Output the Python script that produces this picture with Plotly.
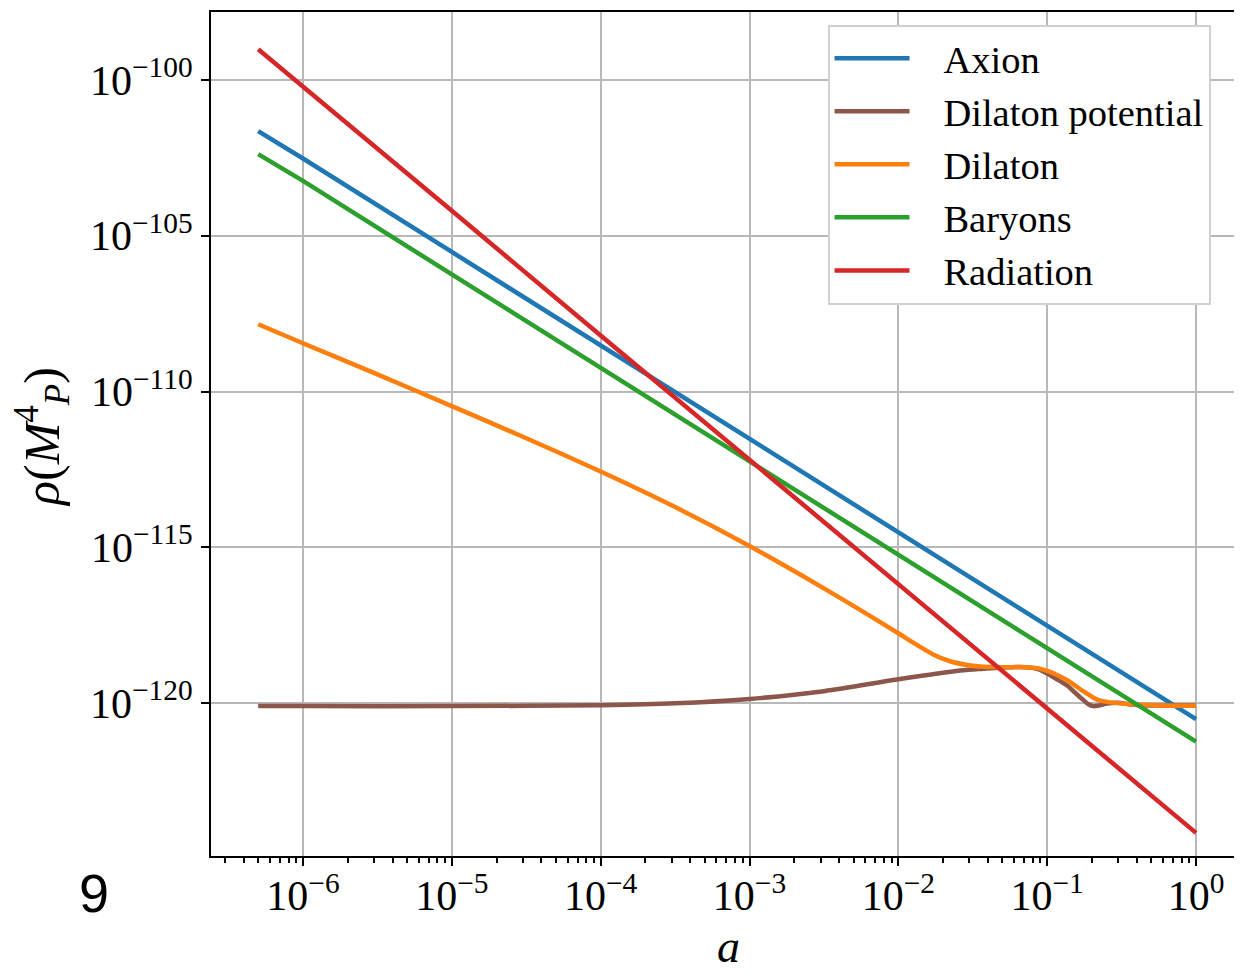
import numpy as np
import plotly.graph_objects as go

# ---- data (log10 of rho in M_P^4) ----
a_lines = [5e-7, 1e-6, 1e-5, 1e-4, 1e-3, 1e-2, 1e-1, 1.0]
axion_log = [-101.64, -102.52, -105.52, -108.52, -111.52, -114.52, -117.52, -120.52]
baryons_log = [-102.38, -103.24, -106.24, -109.24, -112.24, -115.24, -118.24, -121.24]
radiation_log = [-99.01, -100.2, -104.2, -108.2, -112.2, -116.2, -120.2, -124.17]

a_pot_exp = [-6.301, -6.0, -5.0, -4.5, -4.0, -3.5, -3.0, -2.5, -2.0, -1.585,
             -1.43, -1.3, -1.15, -1.067, -1.0, -0.933, -0.866, -0.81, -0.758, -0.72,
             -0.691, -0.65, -0.60, -0.53, -0.45, -0.375, -0.2, 0.0]
pot_log = [-120.10, -120.10, -120.10, -120.09, -120.07, -120.01, -119.87, -119.62,
           -119.24, -118.96, -118.90, -118.86, -118.85, -118.90, -119.05, -119.24,
           -119.44, -119.68, -119.90, -120.05, -120.10, -120.08, -120.02, -119.99,
           -120.04, -120.08, -120.08, -120.08]

a_dil_exp = [-6.301, -6.0, -5.5, -5.0, -4.5, -4.0, -3.5, -3.0, -2.5, -2.0,
             -1.88, -1.766, -1.652, -1.538, -1.43, -1.3, -1.15, -1.067, -1.0, -0.933,
             -0.866, -0.81, -0.758, -0.70, -0.664, -0.577, -0.4, -0.2, 0.0]
dil_log = [-107.84, -108.45, -109.45, -110.47, -111.50, -112.57, -113.71, -114.96, -116.32,
           -117.76, -118.12, -118.44, -118.66, -118.78, -118.84, -118.85, -118.85, -118.88,
           -118.97, -119.10, -119.27, -119.45, -119.62, -119.80, -119.89, -119.98, -120.05,
           -120.08, -120.09]

series = [
    ("Axion", a_lines, axion_log, "#1f77b4", "linear"),
    ("Dilaton potential", [10.0 ** e for e in a_pot_exp], pot_log, "#8c564b", "spline"),
    ("Dilaton", [10.0 ** e for e in a_dil_exp], dil_log, "#ff7f0e", "spline"),
    ("Baryons", a_lines, baryons_log, "#2ca02c", "linear"),
    ("Radiation", a_lines, radiation_log, "#d62728", "linear"),
]

y_tick_exps = [-100, -105, -110, -115, -120]
x_tick_exps = [-6, -5, -4, -3, -2, -1, 0]

SERIF = "Liberation Serif, Times New Roman, serif"

fig = go.Figure()
for name, xs, ylog, color, shape in series:
    fig.add_trace(go.Scatter(
        x=xs, y=[10.0 ** v for v in ylog], mode="lines",
        name="&nbsp;&nbsp;&nbsp;" + name,
        line=dict(color=color, width=4.5, shape=shape,
                  smoothing=0.9 if shape == "spline" else None),
    ))

minor_x = [m * 10.0 ** e for e in range(-7, 1) for m in range(2, 10)]

# the page body has an 8px margin, so the figure is offset to line up with the window
fig.update_layout(
    width=1242, height=966,
    margin=dict(l=203, r=8, t=4, b=118, autoexpand=False),
    paper_bgcolor="white", plot_bgcolor="white",
    font=dict(family=SERIF, color="black"),
    showlegend=True,
    legend=dict(
        x=0.598, y=0.985, xanchor="left", yanchor="top",
        bgcolor="white", bordercolor="#d0d0d0", borderwidth=2,
        font=dict(family=SERIF, size=38.5, color="black"),
        itemwidth=75,
    ),
    xaxis=dict(
        type="log", range=[-6.618, 0.309], automargin=False,
        tickmode="array", tickvals=[10.0 ** e for e in x_tick_exps],
        ticktext=[f"10<sup>{'−' if e < 0 else ''}{abs(e)}</sup>" for e in x_tick_exps],
        tickfont=dict(family=SERIF, size=42),
        ticks="outside", ticklen=8, tickwidth=2, tickcolor="black",
        ticklabelstandoff=-6,
        showline=True, linecolor="black", linewidth=2, mirror=True,
        showgrid=True, gridcolor="#b8b8b8", gridwidth=2,
        zeroline=False,
        minor=dict(tickmode="array", tickvals=minor_x, ticks="outside",
                   ticklen=5, tickwidth=1.5, tickcolor="black", showgrid=False),
    ),
    yaxis=dict(
        type="log", range=[-124.912, -97.817], automargin=False,
        tickmode="array", tickvals=[10.0 ** e for e in y_tick_exps],
        ticktext=[f"10<sup>−{abs(e)}</sup>" for e in y_tick_exps],
        tickfont=dict(family=SERIF, size=42),
        ticks="outside", ticklen=8, tickwidth=2, tickcolor="black",
        showline=True, linecolor="black", linewidth=2, mirror=False,
        showgrid=True, gridcolor="#b8b8b8", gridwidth=2,
        zeroline=False,
    ),
    annotations=[
        dict(text="9", xref="paper", yref="paper", x=-0.113, y=-0.044,
             xanchor="center", yanchor="middle", showarrow=False,
             font=dict(family="Liberation Sans, Arial, sans-serif", size=54, color="black")),
        dict(text="<i>a</i>", xref="paper", yref="paper", x=0.5015, y=-0.1396,
             xanchor="center", yanchor="bottom", showarrow=False,
             font=dict(family=SERIF, size=46, color="black")),
        dict(text="<i>ρ</i>(<i>M</i><sup>4</sup><sub><i>P</i></sub>)",
             xref="paper", yref="paper", x=-0.164, y=0.4964, textangle=-90,
             xanchor="center", yanchor="middle", showarrow=False,
             font=dict(family=SERIF, size=50, color="black")),
    ],
)

fig.write_html("out.html")
